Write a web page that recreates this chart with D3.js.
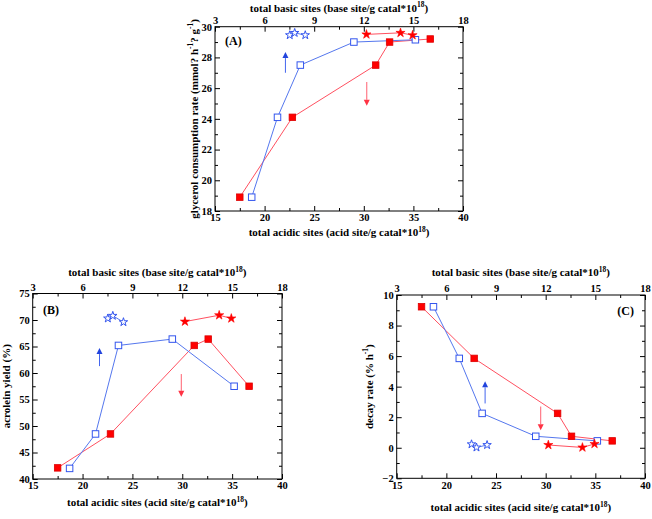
<!DOCTYPE html>
<html><head><meta charset="utf-8">
<script src="https://cdn.jsdelivr.net/npm/d3@7"></script>
<style>
body{margin:0;background:#fff;}
svg text{font-family:"Liberation Serif","Times New Roman",serif;font-weight:bold;fill:#000;}
</style></head><body>
<svg id="c" width="652" height="519"></svg>
<script>
// ---- data ----
const acidRed  = [17.5, 22.8, 31.2, 32.6, 36.7];
const acidBlue = [18.7, 21.3, 23.6, 29.0, 35.2];
const basicBlueStar = [7.52, 7.82, 8.46];
const basicRedStar  = [12.16, 14.22, 14.95];

const glyRedSq   = [18.9, 24.1, 27.5, 29.0, 29.2];
const glyBlueSq  = [18.9, 24.1, 27.5, 29.0, 29.15];
const glyBlueStar= [29.45, 29.6, 29.45];
const glyRedStar = [29.5, 29.6, 29.45];

const acrRedSq   = [42.1, 48.5, 65.2, 66.4, 57.5];
const acrBlueSq  = [42.0, 48.5, 65.2, 66.4, 57.5];
const acrBlueStar= [70.3, 70.8, 69.6];
const acrRedStar = [69.7, 70.9, 70.3];

const decRedSq   = [9.23, 5.85, 2.25, 0.75, 0.45];
const decBlueSq  = [9.23, 5.85, 2.25, 0.75, 0.45];
const decBlueStar= [0.23, 0.02, 0.18];
const decRedStar = [0.18, 0.02, 0.25];

const acidTicks  = [15, 20, 25, 30, 35, 40];
const basicTicks = [3, 6, 9, 12, 15, 18];
const glyTicks = [18, 20, 22, 24, 26, 28, 30];
const acrTicks = [40, 45, 50, 55, 60, 65, 70, 75];
const decTicks = [-2, 0, 2, 4, 6, 8, 10];

// arrows: [colour, acid x, y from, y to]
const glyArrows = [["blue", 22.1, 27.0, 28.35], ["red", 30.3, 26.4, 24.85]];
const acrArrows = [["blue", 21.7, 61.3, 64.7], ["red", 29.9, 59.8, 55.5]];
const decArrows = [["blue", 23.9, 2.9, 4.35], ["red", 29.5, 2.7, 1.15]];

const svg = d3.select("#c");
const RED = "#ff0000", REDL = "#ff5060", BLUE = "#3355ee", BLUEL = "#5577ee";

function minorOf(t){const r=[];for(let i=0;i<t.length-1;i++)r.push((t[i]+t[i+1])/2);return r;}

function panel(o){
  const g = svg.append("g");
  const x = d3.scaleLinear().domain([15,40]).range([o.l,o.r]);
  const xb = d3.scaleLinear().domain([3,18]).range([o.l,o.r]);
  const y = d3.scaleLinear().domain(o.yd).range([o.b,o.t]);
  const fs = 10.5;
  function ax(gen, tr, ticks, lab){
    const a = g.append("g").attr("transform", tr)
      .call(gen.tickValues(ticks).tickSize(-5).tickPadding(3).tickFormat(lab?d3.format("d"):""));
    a.select(".domain").remove();
    a.selectAll("text").style("font-size", fs+"px");
    a.selectAll("line").attr("stroke","#000");
    return a;
  }
  function axm(gen, tr, ticks){
    const a = g.append("g").attr("transform", tr)
      .call(gen.tickValues(ticks).tickSize(-3).tickFormat(""));
    a.select(".domain").remove();
    a.selectAll("line").attr("stroke","#000");
  }
  ax(d3.axisBottom(x), `translate(0,${o.b})`, acidTicks, true);
  axm(d3.axisBottom(x), `translate(0,${o.b})`, minorOf(acidTicks));
  ax(d3.axisTop(xb), `translate(0,${o.t})`, basicTicks, true);
  axm(d3.axisTop(xb), `translate(0,${o.t})`, minorOf(basicTicks));
  ax(d3.axisLeft(y), `translate(${o.l},0)`, o.yt, true);
  axm(d3.axisLeft(y), `translate(${o.l},0)`, minorOf(o.yt));
  ax(d3.axisRight(y), `translate(${o.r},0)`, o.yt, false);
  axm(d3.axisRight(y), `translate(${o.r},0)`, minorOf(o.yt));
  g.append("rect").attr("x",o.l).attr("y",o.t).attr("width",o.r-o.l).attr("height",o.b-o.t)
    .attr("fill","none").attr("stroke","#000").attr("stroke-width",1);

  const line = d3.line().x(d=>d[0]).y(d=>d[1]);
  const red = acidRed.map((a,i)=>[x(a), y(o.redSq[i])]);
  const blue = acidBlue.map((a,i)=>[x(a), y(o.blueSq[i])]);
  const rs = basicRedStar.map((b,i)=>[xb(b), y(o.redStar[i])]);
  const bs = basicBlueStar.map((b,i)=>[xb(b), y(o.blueStar[i])]);
  g.append("path").attr("d",line(red)).attr("fill","none").attr("stroke",REDL).attr("stroke-width",1);
  g.append("path").attr("d",line(blue)).attr("fill","none").attr("stroke",BLUEL).attr("stroke-width",1);
  g.append("path").attr("d",line(rs)).attr("fill","none").attr("stroke",REDL).attr("stroke-width",1);
  g.append("path").attr("d",line(bs)).attr("fill","none").attr("stroke",BLUEL).attr("stroke-width",1);
  const s = 6.5;
  g.selectAll(null).data(red).join("rect").attr("x",d=>d[0]-s/2).attr("y",d=>d[1]-s/2)
    .attr("width",s).attr("height",s).attr("fill",RED).attr("stroke","#dd0000").attr("stroke-width",0.8);
  g.selectAll(null).data(blue).join("rect").attr("x",d=>d[0]-s/2).attr("y",d=>d[1]-s/2)
    .attr("width",s).attr("height",s).attr("fill","#fff").attr("stroke",BLUE).attr("stroke-width",1);
  const starR = d3.symbol().type(d3.symbolStar).size(26);
  const starB = d3.symbol().type(d3.symbolStar).size(22);
  g.selectAll(null).data(rs).join("path").attr("d",starR).attr("transform",d=>`translate(${d[0]},${d[1]})`)
    .attr("fill",RED).attr("stroke",RED).attr("stroke-width",0.6);
  g.selectAll(null).data(bs).join("path").attr("d",starB).attr("transform",d=>`translate(${d[0]},${d[1]})`)
    .attr("fill","#fff").attr("stroke",BLUE).attr("stroke-width",1);

  // arrows
  o.arrows.forEach(a=>{
    const col = a[0]==="blue" ? "#2244dd" : "#ff3344";
    const lc = a[0]==="blue" ? "#4466ee" : "#ff6070";
    const ax0 = x(a[1]), y0 = y(a[2]), y1 = y(a[3]);
    const dir = y1<y0 ? 1 : -1;
    const hl = 6, hw = 3;
    g.append("line").attr("x1",ax0).attr("x2",ax0).attr("y1",y0).attr("y2",y1+dir*hl)
      .attr("stroke",lc).attr("stroke-width",1);
    g.append("path").attr("d",`M${ax0},${y1} L${ax0-hw},${y1+dir*hl} L${ax0+hw},${y1+dir*hl} Z`).attr("fill",col);
  });

  // panel label
  g.append("text").attr("x",o.lab[0]).attr("y",o.lab[1]).attr("text-anchor",o.lab[2])
    .attr("dominant-baseline","middle").style("font-size","12px").text(o.name);

  // titles
  const tfs = "11px";
  const tt = g.append("text").attr("x",(o.l+o.r)/2).attr("y",o.topT).attr("text-anchor","middle")
    .attr("dominant-baseline","middle").style("font-size",tfs);
  tt.append("tspan").text("total basic sites (base site/g catal*10");
  tt.append("tspan").attr("dy",-3.5).style("font-size","7.5px").text("18");
  tt.append("tspan").attr("dy",3.5).text(")");
  const bt = g.append("text").attr("x",(o.l+o.r)/2).attr("y",o.botT).attr("text-anchor","middle")
    .attr("dominant-baseline","middle").style("font-size",tfs);
  bt.append("tspan").text("total acidic sites (acid site/g catal*10");
  bt.append("tspan").attr("dy",-3.5).style("font-size","7.5px").text("18");
  bt.append("tspan").attr("dy",3.5).text(")");
  const yl = g.append("text").attr("transform",`translate(${o.yT},${(o.t+o.b)/2}) rotate(-90)`)
    .attr("text-anchor","middle").attr("dominant-baseline","middle").style("font-size",tfs);
  o.ylab.forEach(p=>{
    const ts = yl.append("tspan").text(p[0]);
    if(p[1]){ ts.attr("dy",-4).style("font-size","7.5px"); }
    else if(p[2]){ ts.attr("dy",4); }
  });
}

panel({name:"(A)", l:215, r:463, t:26.7, b:211, yd:[18,30], yt:glyTicks,
  redSq:glyRedSq, blueSq:glyBlueSq, redStar:glyRedStar, blueStar:glyBlueStar, arrows:glyArrows,
  lab:[225,42,"start"], topT:8.5, botT:233, yT:195,
  ylab:[["glycerol consumption rate (mmol? h"],["-1",1],["? g",0,1],["-1",1],[")",0,1]]});
panel({name:"(B)", l:32.7, r:282, t:293.5, b:479, yd:[40,75], yt:acrTicks,
  redSq:acrRedSq, blueSq:acrBlueSq, redStar:acrRedStar, blueStar:acrBlueStar, arrows:acrArrows,
  lab:[43,311,"start"], topT:273, botT:503, yT:7,
  ylab:[["acrolein yield (%)"]]});
panel({name:"(C)", l:396.7, r:645, t:295, b:478.3, yd:[-2,10], yt:decTicks,
  redSq:decRedSq, blueSq:decBlueSq, redStar:decRedStar, blueStar:decBlueStar, arrows:decArrows,
  lab:[634,312,"end"], topT:273, botT:508, yT:370,
  ylab:[["decay rate (% h"],["-1",1],[")",0,1]]});
</script></body></html>
